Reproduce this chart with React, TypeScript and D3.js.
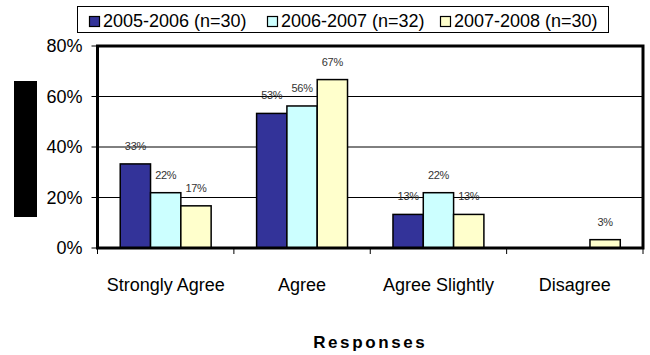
import React from "react";
import * as d3 from "d3";

const categories = ["Strongly Agree", "Agree", "Agree Slightly", "Disagree"];
const seriesNames = ["2005-2006 (n=30)", "2006-2007 (n=32)", "2007-2008 (n=30)"];
const values2005 = [0.333, 0.533, 0.133, 0];
const values2006 = [0.219, 0.5625, 0.219, 0];
const values2007 = [0.167, 0.667, 0.133, 0.033];
const yTicks = [0, 0.2, 0.4, 0.6, 0.8];
const seriesColors = ["#333399", "#CCFFFF", "#FFFFCC"];
const xTitle = "Responses";

const seriesValues = [values2005, values2006, values2007];

const W = 650;
const H = 355;
const plot = { left: 97.5, right: 643, top: 46, bottom: 248 };
const FONT = "'Liberation Sans', Arial, Helvetica, sans-serif";

export default function App() {
  const x = d3.scaleBand<string>().domain(categories).range([plot.left, plot.right]).padding(0);
  const inner = d3
    .scaleBand<string>()
    .domain(seriesNames)
    .range([0, x.bandwidth()])
    .paddingInner(0)
    .paddingOuter(0.75);
  const y = d3.scaleLinear().domain([0, 0.8]).range([plot.bottom, plot.top]);
  const fmt = d3.format(".0%");

  const boundaries = [plot.left, ...categories.map((c) => (x(c) as number) + x.bandwidth())];

  const legendX = [89, 267, 440];

  return (
    <svg width={W} height={H} style={{ position: "absolute", left: 0, top: 0, background: "#fff" }} fontFamily={FONT}>
      <rect x={0} y={0} width={W} height={H} fill="#fff" />
      {/* legend */}
      <rect x={77.5} y={6.5} width={531} height={26} fill="#fff" stroke="#000" strokeWidth={1} />
      {seriesNames.map((s, i) => (
        <g key={s}>
          <rect x={legendX[i] + 0.5} y={16.5} width={10} height={10} fill={seriesColors[i]} stroke="#000" strokeWidth={1.2} />
          <text x={legendX[i] + 14} y={27} fontSize={18} fill="#000">
            {s}
          </text>
        </g>
      ))}

      {/* y axis title (blacked out) */}
      <rect x={14} y={81} width={23} height={136} fill="#000" />

      {/* gridlines */}
      {yTicks.slice(1, -1).map((t) => (
        <line key={t} x1={plot.left} x2={plot.right} y1={y(t)} y2={y(t)} stroke="#000" strokeWidth={1} />
      ))}

      {/* y ticks & labels */}
      {yTicks.map((t) => (
        <g key={"yt" + t}>
          <line x1={plot.left - 6} x2={plot.left} y1={y(t)} y2={y(t)} stroke="#000" strokeWidth={1} />
          <text x={82.5} y={y(t)} dy="0.36em" fontSize={18} textAnchor="end" fill="#000">
            {fmt(t)}
          </text>
        </g>
      ))}

      {/* bars */}
      {categories.map((c, ci) =>
        seriesNames.map((s, si) => {
          const v = seriesValues[si][ci];
          if (!v) return null;
          const bx = (x(c) as number) + (inner(s) as number);
          const bw = inner.bandwidth();
          return (
            <g key={c + s}>
              <rect x={bx} y={y(v)} width={bw} height={y(0) - y(v)} fill={seriesColors[si]} stroke="#000" strokeWidth={1.5} />
              <text x={bx + bw / 2} y={y(v) - 14} fontSize={11} textAnchor="middle" fill="#333" letterSpacing={-0.3}>
                {fmt(v)}
              </text>
            </g>
          );
        })
      )}

      {/* frame */}
      <rect
        x={plot.left}
        y={plot.top}
        width={plot.right - plot.left}
        height={plot.bottom - plot.top}
        fill="none"
        stroke="#000"
        strokeWidth={3}
      />

      {/* x ticks */}
      {boundaries.map((b, i) => (
        <line key={"xt" + i} x1={b} x2={b} y1={plot.bottom} y2={plot.bottom + 6} stroke="#000" strokeWidth={1} />
      ))}

      {/* category labels */}
      {categories.map((c) => (
        <text key={c} x={(x(c) as number) + x.bandwidth() / 2} y={291} fontSize={18} textAnchor="middle" fill="#000">
          {c}
        </text>
      ))}

      {/* x title */}
      <text x={(plot.left + plot.right) / 2} y={348} fontSize={17} fontWeight="bold" textAnchor="middle" letterSpacing={2.6} fill="#000">
        {xTitle}
      </text>
    </svg>
  );
}
